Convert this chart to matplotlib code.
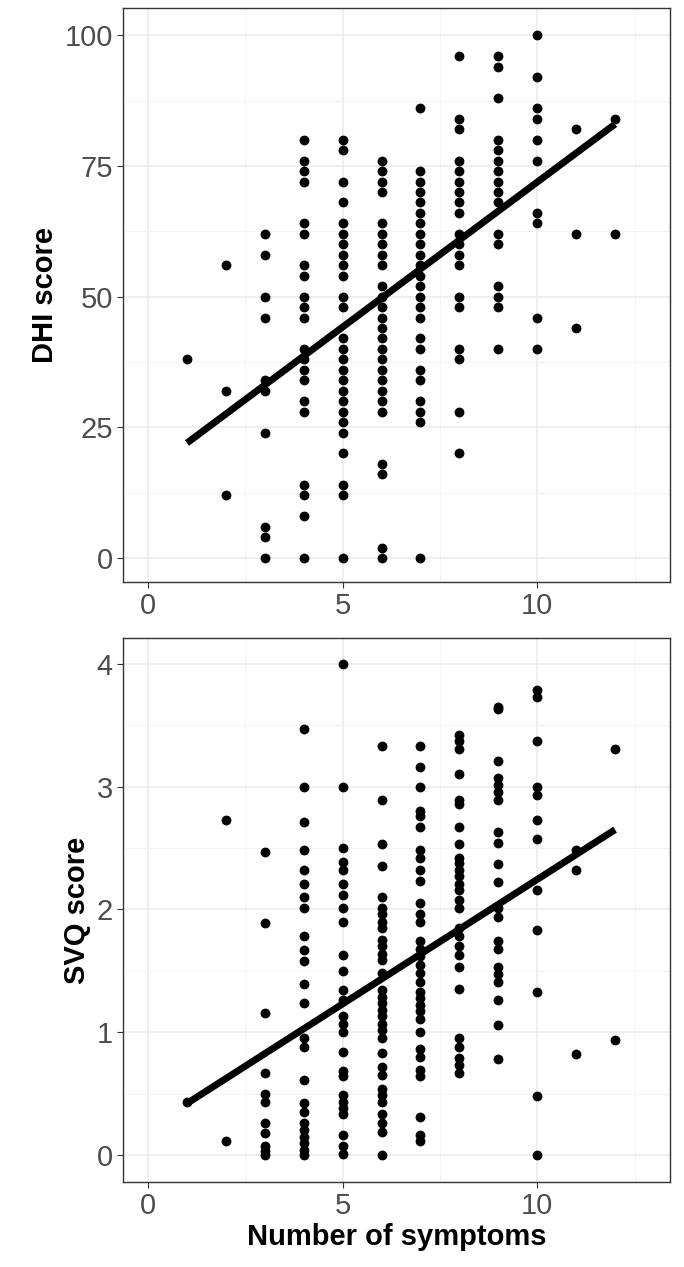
import numpy as np
import matplotlib
matplotlib.use("Agg")
import matplotlib.pyplot as plt
from matplotlib.ticker import MultipleLocator

plt.rcParams["font.family"] = "Liberation Sans"

dhi = {
    1: [38],
    2: [56, 32, 12],
    3: [62, 58, 50, 46, 34, 32, 24, 6, 4, 0],
    4: [80, 76, 74, 72, 64, 62, 56, 54, 50, 48, 46, 40, 38, 36, 34, 30, 28, 14, 12, 8, 0],
    5: [80, 78, 72, 68, 64, 62, 60, 58, 56, 54, 50, 48, 42, 40, 38, 36, 34, 32, 30, 28, 26, 24, 20, 14, 12, 0],
    6: [76, 74, 72, 70, 64, 62, 60, 58, 56, 52, 50, 48, 46, 44, 42, 40, 38, 36, 34, 32, 30, 28, 18, 16, 2, 0],
    7: [86, 74, 72, 70, 68, 66, 64, 62, 60, 58, 56, 54, 52, 50, 48, 46, 42, 40, 36, 34, 30, 28, 26, 0],
    8: [96, 84, 82, 76, 74, 72, 70, 68, 66, 62, 60, 58, 56, 50, 48, 40, 38, 28, 20],
    9: [96, 94, 88, 80, 78, 76, 74, 72, 70, 68, 62, 60, 52, 50, 48, 40],
    10: [100, 92, 86, 84, 80, 76, 66, 64, 46, 40],
    11: [82, 62, 44],
    12: [84, 62],
}
svq = {
    1: [0.43],
    2: [2.73, 0.11],
    3: [2.47, 1.89, 1.16, 0.67, 0.50, 0.43, 0.26, 0.18, 0.07, 0.03, 0.0],
    4: [3.47, 3.0, 2.71, 2.48, 2.32, 2.21, 2.10, 2.01, 1.78, 1.67, 1.58, 1.39, 1.24, 0.95, 0.88,
        0.61, 0.42, 0.35, 0.26, 0.20, 0.15, 0.10, 0.04, 0.0],
    5: [4.0, 3.0, 2.50, 2.39, 2.32, 2.21, 2.12, 2.01, 1.90, 1.63, 1.50, 1.34, 1.26, 1.13, 1.07, 1.0,
        0.84, 0.68, 0.64, 0.49, 0.43, 0.38, 0.33, 0.16, 0.07, 0.01],
    6: [3.33, 2.89, 2.53, 2.35, 2.10, 2.01, 1.96, 1.90, 1.85, 1.75, 1.70, 1.64, 1.59, 1.48, 1.34,
        1.29, 1.24, 1.18, 1.13, 1.07, 1.02, 0.95, 0.83, 0.72, 0.65, 0.54, 0.49, 0.43, 0.33, 0.26,
        0.19, 0.0],
    7: [3.33, 3.16, 3.0, 2.80, 2.76, 2.67, 2.48, 2.42, 2.32, 2.23, 2.05, 1.96, 1.90, 1.74, 1.68,
        1.62, 1.55, 1.48, 1.41, 1.33, 1.28, 1.22, 1.17, 1.11, 1.0, 0.86, 0.80, 0.69, 0.64, 0.31,
        0.16, 0.11],
    8: [3.42, 3.37, 3.31, 3.10, 2.89, 2.86, 2.67, 2.53, 2.42, 2.38, 2.32, 2.27, 2.21, 2.16, 2.08,
        2.01, 1.85, 1.78, 1.70, 1.63, 1.53, 1.35, 0.95, 0.88, 0.79, 0.73, 0.67],
    9: [3.65, 3.63, 3.21, 3.07, 3.01, 2.96, 2.89, 2.63, 2.54, 2.37, 2.22, 2.01, 1.94, 1.74, 1.68,
        1.53, 1.47, 1.41, 1.26, 1.06, 0.78],
    10: [3.79, 3.73, 3.37, 3.0, 2.93, 2.73, 2.57, 2.16, 1.83, 1.33, 0.48, 0.0],
    11: [2.48, 2.32, 0.82],
    12: [3.31, 0.94],
}

# regression fits (intercept, slope)
dhi_fit = (16.45, 5.545)
svq_fit = (0.217, 0.2027)

def flatten(d):
    xs, ys = [], []
    for k, v in d.items():
        xs += [k] * len(v)
        ys += v
    return np.array(xs, float), np.array(ys, float)

fig = plt.figure(figsize=(6.84, 12.67), dpi=100)
ax1 = fig.add_axes([0.180, 0.5406, 0.800, 0.4531])
ax2 = fig.add_axes([0.180, 0.0671, 0.800, 0.4293])

def style(ax, ylim, major, minor, ylabel, xlabel=None):
    ax.set_xlim(-0.64, 13.42)
    ax.set_ylim(*ylim)
    ax.xaxis.set_major_locator(MultipleLocator(5))
    ax.xaxis.set_minor_locator(MultipleLocator(2.5))
    ax.yaxis.set_major_locator(MultipleLocator(major))
    ax.yaxis.set_minor_locator(MultipleLocator(minor))
    ax.grid(which="major", color="#ebebeb", lw=1.1)
    ax.grid(which="minor", color="#f3f3f3", lw=0.6)
    ax.set_axisbelow(True)
    ax.tick_params(which="major", labelsize=21, labelcolor="#4d4d4d", color="#333333", length=4)
    ax.tick_params(which="minor", length=0)
    for s in ax.spines.values():
        s.set_color("#333333")
        s.set_linewidth(1)
    ax.set_ylabel(ylabel, fontsize=21, fontweight="bold", labelpad=4)
    if xlabel:
        ax.set_xlabel(xlabel, fontsize=21, fontweight="bold", labelpad=2)

for ax, d, fit in ((ax1, dhi, dhi_fit), (ax2, svq, svq_fit)):
    x, y = flatten(d)
    ax.scatter(x, y, s=50, color="black", zorder=3, linewidths=0)
    a, b = fit
    xx = np.array([x.min(), x.max()])
    ax.plot(xx, a + b * xx, color="black", lw=5, zorder=4, solid_capstyle="butt")

style(ax1, (-4.6, 105.2), 25, 12.5, "DHI score")
style(ax2, (-0.22, 4.21), 1, 0.5, "SVQ score", "Number of symptoms")

fig.savefig("out.png", dpi=100)
